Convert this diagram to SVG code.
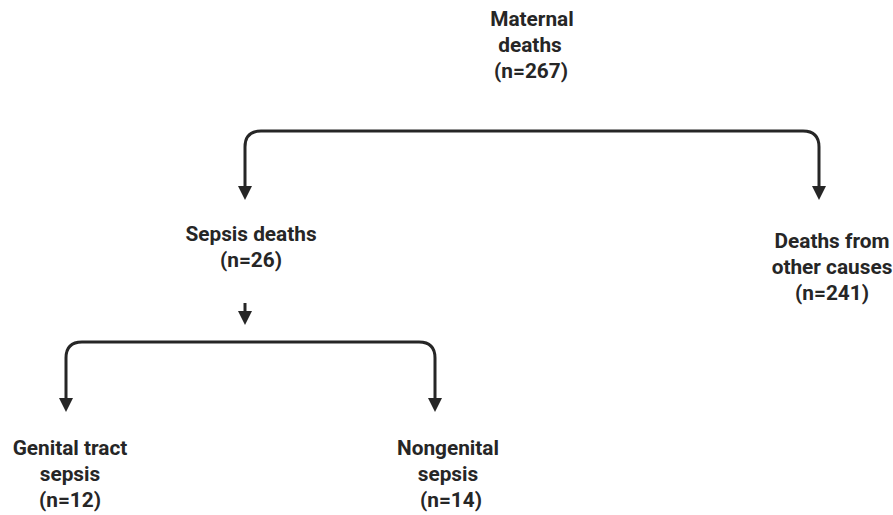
<svg xmlns="http://www.w3.org/2000/svg" width="893" height="515" viewBox="0 0 893 515">
<defs>
<style>
.t{font-family:Roboto,"Liberation Sans",sans-serif;font-weight:bold;font-size:20.8px;fill:#262626;text-anchor:middle}
.c{fill:none;stroke:#262626;stroke-width:3;stroke-linecap:butt}
.h{fill:#262626}
</style>
</defs>
<rect width="893" height="515" fill="#fff"/>
<g id="connectors">
<path class="c" d="M245,188 V147 Q245,131 261,131 H803 Q819,131 819,147 V188"/>
<path class="h" d="M238,186 L252,186 L245,200 Z"/>
<path class="h" d="M812,186 L826,186 L819,200 Z"/>
<path class="c" d="M245,303 V313"/>
<path class="h" d="M238,311 L252,311 L245,325 Z"/>
<path class="c" d="M66,400 V358 Q66,342 82,342 H419 Q435,342 435,358 V400"/>
<path class="h" d="M59,398 L73,398 L66,412 Z"/>
<path class="h" d="M428,398 L442,398 L435,412 Z"/>
</g>
<g id="maternal"><text class="t" x="532" y="26">Maternal</text><text class="t" x="530" y="52">deaths</text><text class="t" x="531" y="78">(n=267)</text></g>
<g id="sepsis"><text class="t" x="251" y="241">Sepsis deaths</text><text class="t" x="251" y="267">(n=26)</text></g>
<g id="other"><text class="t" x="832" y="248">Deaths from</text><text class="t" x="832" y="274">other causes</text><text class="t" x="832" y="300">(n=241)</text></g>
<g id="genital"><text class="t" x="70" y="455">Genital tract</text><text class="t" x="70" y="481">sepsis</text><text class="t" x="70" y="507">(n=12)</text></g>
<g id="nongenital"><text class="t" x="448" y="455">Nongenital</text><text class="t" x="448" y="481">sepsis</text><text class="t" x="451" y="507">(n=14)</text></g>
</svg>
